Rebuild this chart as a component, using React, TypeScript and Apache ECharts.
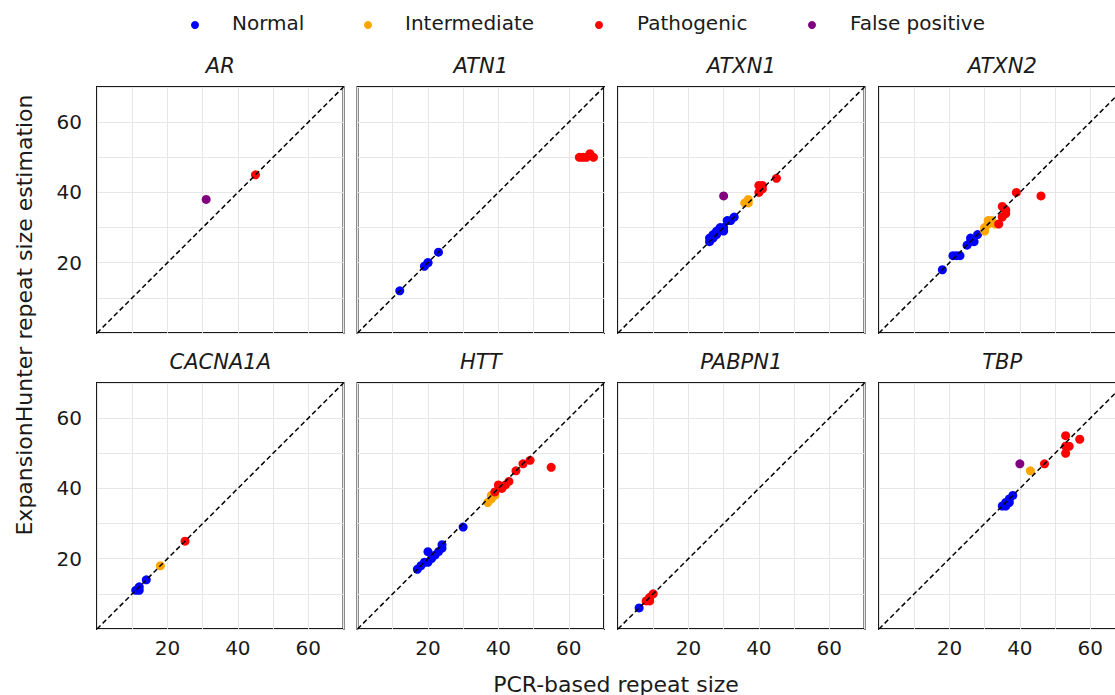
import React, { useEffect, useRef } from "react";
import * as echarts from "echarts";

const genes = ["AR", "ATN1", "ATXN1", "ATXN2", "CACNA1A", "HTT", "PABPN1", "TBP"];
const tickLabels = [20, 40, 60];

// [gene, PCR-based size, ExpansionHunter estimate]
const normalPts: [string, number, number][] = [
  ["ATN1", 12, 12], ["ATN1", 19, 19], ["ATN1", 20, 20], ["ATN1", 20, 20], ["ATN1", 23, 23],
  ["ATXN1", 26, 26], ["ATXN1", 26, 27], ["ATXN1", 27, 27], ["ATXN1", 27, 28], ["ATXN1", 28, 28],
  ["ATXN1", 28, 29], ["ATXN1", 29, 30], ["ATXN1", 30, 30], ["ATXN1", 30, 29], ["ATXN1", 31, 32],
  ["ATXN1", 32, 32], ["ATXN1", 33, 33],
  ["ATXN2", 18, 18], ["ATXN2", 21, 22], ["ATXN2", 22, 22], ["ATXN2", 23, 22], ["ATXN2", 25, 25],
  ["ATXN2", 26, 27], ["ATXN2", 27, 26], ["ATXN2", 28, 28], ["ATXN2", 26, 26],
  ["CACNA1A", 11, 11], ["CACNA1A", 12, 12], ["CACNA1A", 12, 11], ["CACNA1A", 14, 14],
  ["HTT", 17, 17], ["HTT", 18, 18], ["HTT", 19, 19], ["HTT", 20, 22], ["HTT", 20, 19],
  ["HTT", 21, 20], ["HTT", 22, 21], ["HTT", 23, 22], ["HTT", 24, 24], ["HTT", 24, 23], ["HTT", 30, 29],
  ["PABPN1", 6, 6],
  ["TBP", 35, 35], ["TBP", 36, 35], ["TBP", 36, 36], ["TBP", 37, 37], ["TBP", 38, 38], ["TBP", 37, 36],
];
const intermediatePts: [string, number, number][] = [
  ["ATXN1", 37, 37], ["ATXN1", 37, 38], ["ATXN1", 36, 37],
  ["ATXN2", 30, 30], ["ATXN2", 31, 32], ["ATXN2", 32, 32], ["ATXN2", 33, 31], ["ATXN2", 30, 29], ["ATXN2", 31, 31],
  ["CACNA1A", 18, 18],
  ["HTT", 37, 36], ["HTT", 38, 37], ["HTT", 38, 38], ["HTT", 39, 38],
  ["TBP", 43, 45],
];
const pathogenicPts: [string, number, number][] = [
  ["AR", 45, 45],
  ["ATN1", 63, 50], ["ATN1", 64, 50], ["ATN1", 65, 50], ["ATN1", 66, 51], ["ATN1", 67, 50],
  ["ATXN1", 40, 42], ["ATXN1", 41, 42], ["ATXN1", 40, 40], ["ATXN1", 41, 41], ["ATXN1", 45, 44],
  ["ATXN2", 34, 31], ["ATXN2", 35, 33], ["ATXN2", 35, 36], ["ATXN2", 36, 35], ["ATXN2", 36, 34],
  ["ATXN2", 39, 40], ["ATXN2", 46, 39],
  ["CACNA1A", 25, 25],
  ["HTT", 39, 39], ["HTT", 40, 41], ["HTT", 41, 40], ["HTT", 42, 41], ["HTT", 43, 42],
  ["HTT", 45, 45], ["HTT", 47, 47], ["HTT", 49, 48], ["HTT", 55, 46],
  ["PABPN1", 8, 8], ["PABPN1", 9, 9], ["PABPN1", 10, 10], ["PABPN1", 9, 8],
  ["TBP", 47, 47], ["TBP", 53, 55], ["TBP", 53, 52], ["TBP", 54, 52], ["TBP", 53, 50], ["TBP", 57, 54],
];
const falsePositivePts: [string, number, number][] = [
  ["AR", 31, 38],
  ["ATXN1", 30, 39],
  ["TBP", 40, 47],
];
const categories = ["Normal", "Intermediate", "Pathogenic", "False positive"];
const categoryColors = ["#0000ff", "#ffa500", "#ff0000", "#800080"];
const categoryData = [normalPts, intermediatePts, pathogenicPts, falsePositivePts];
const diagonal = [[0, 0], [70, 70]];

const colLeft = [97, 357.5, 618, 879];
const rowTop = [87, 383];
const panelW = 246.5;
const panelH = 246;
const FONT = "DejaVu Sans";

export default function App() {
  const ref = useRef<HTMLDivElement>(null);
  useEffect(() => {
    const chart = echarts.init(ref.current!, undefined, { renderer: "svg" });
    const grids: any[] = [];
    const xAxes: any[] = [];
    const yAxes: any[] = [];
    const series: any[] = [];
    const graphics: any[] = [];
    genes.forEach((g, i) => {
      const c = i % 4;
      const r = Math.floor(i / 4);
      grids.push({
        left: colLeft[c], top: rowTop[r], width: panelW, height: panelH,
        outerBoundsMode: "none", containLabel: false,
        show: true, borderColor: "#1a1a1a", borderWidth: 2, backgroundColor: "#fff",
      });
      const labelFmt = (v: number) => (tickLabels.includes(v) ? String(v) : "");
      xAxes.push({
        type: "value", gridIndex: i, min: 0, max: 70, interval: 10,
        axisLine: { show: false }, axisTick: { show: false },
        axisLabel: { show: r === 1, formatter: labelFmt, fontSize: 20, color: "#1a1a1a", fontFamily: FONT, margin: 9 },
        splitLine: { show: true, lineStyle: { color: "#e6e6e6", width: 1 } },
      });
      yAxes.push({
        type: "value", gridIndex: i, min: 0, max: 70, interval: 10,
        axisLine: { show: false }, axisTick: { show: false },
        axisLabel: { show: c === 0, formatter: labelFmt, fontSize: 20, color: "#1a1a1a", fontFamily: FONT, margin: 15 },
        splitLine: { show: true, lineStyle: { color: "#e6e6e6", width: 1 } },
      });
      categoryData.forEach((arr, k) => {
        series.push({
          type: "scatter", name: categories[k], xAxisIndex: i, yAxisIndex: i,
          symbolSize: 9, itemStyle: { color: categoryColors[k], opacity: 1 },
          data: arr.filter((p) => p[0] === g).map((p) => [p[1], p[2]]),
          z: 2,
        });
      });
      series.push({
        type: "line", xAxisIndex: i, yAxisIndex: i, data: diagonal, symbol: "none",
        lineStyle: { color: "#000", width: 1.5, type: [5, 3] }, z: 3, silent: true,
      });
      graphics.push({
        type: "text", x: colLeft[c] + panelW / 2, y: rowTop[r] - 21,
        style: { text: g, fontSize: 21, fontStyle: "italic", fontFamily: FONT, fill: "#1a1a1a", textAlign: "center", textVerticalAlign: "middle" },
      });
    });
    const legendDotX = [195, 368, 599, 812];
    const legendTextX = [232, 405, 637, 850];
    categories.forEach((name, k) => {
      graphics.push({ type: "circle", shape: { cx: legendDotX[k], cy: 25, r: 4 }, style: { fill: categoryColors[k] } });
      graphics.push({
        type: "text", x: legendTextX[k], y: 23,
        style: { text: name, fontSize: 20, fontFamily: FONT, fill: "#1a1a1a", textVerticalAlign: "middle" },
      });
    });
    graphics.push({
      type: "text", x: 616, y: 684,
      style: { text: "PCR-based repeat size", fontSize: 22, fontFamily: FONT, fill: "#1a1a1a", textAlign: "center", textVerticalAlign: "middle" },
    });
    graphics.push({
      type: "text", x: 24, y: 315, rotation: Math.PI / 2,
      style: { text: "ExpansionHunter repeat size estimation", fontSize: 22, fontFamily: FONT, fill: "#1a1a1a", textAlign: "center", textVerticalAlign: "middle" },
    });
    chart.setOption({
      animation: false,
      backgroundColor: "#fff",
      grid: grids,
      xAxis: xAxes,
      yAxis: yAxes,
      series,
      graphic: graphics,
    });
    return () => chart.dispose();
  }, []);
  return (
    <div
      ref={ref}
      style={{ position: "absolute", left: 0, top: 0, width: 1115, height: 695, overflow: "hidden" }}
    />
  );
}
